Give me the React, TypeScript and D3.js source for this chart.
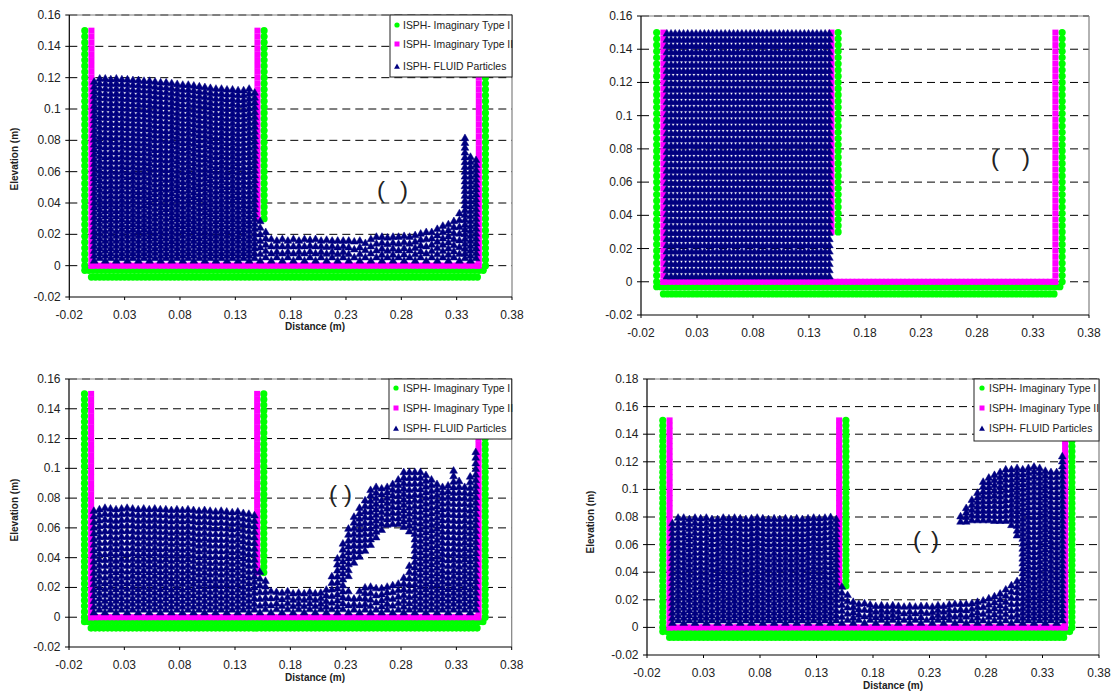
import React from "react";
import * as d3 from "d3";

// ---------- values (metres) ----------
const xTickValues = [-0.02, 0.03, 0.08, 0.13, 0.18, 0.23, 0.28, 0.33, 0.38];
const yTicksA = [-0.02, 0, 0.02, 0.04, 0.06, 0.08, 0.1, 0.12, 0.14, 0.16];
const yTicksB = [-0.02, 0, 0.02, 0.04, 0.06, 0.08, 0.1, 0.12, 0.14, 0.16, 0.18];
const seriesNames = ["ISPH- Imaginary Type I", "ISPH- Imaginary Type II", "ISPH- FLUID Particles"];

// boundary particle lattice
const wallLevels = d3.range(0, 41).map((i) => i * 0.00375);
const gateLevels = wallLevels.filter((y) => y >= 0.03);
const floorStations = d3.range(0, 94).map((i) => i * 0.00375);
const outerWallX = [-0.006, 0.156, 0.356];
const innerWallX = [0, 0.15, 0.35];
const outerFloorY = [-0.003, -0.0073];

// fluid columns: top of the free surface at each station
const fluidStations = d3.range(0, 70).map((i) => 0.0025 + i * 0.005);
const topA = [
  0.12, 0.122, 0.122, 0.1215, 0.122, 0.1215, 0.1215, 0.121, 0.121, 0.1205, 0.1205, 0.12, 0.1195, 0.1195, 0.119,
  0.1185, 0.118, 0.118, 0.1175, 0.117, 0.1165, 0.116, 0.1155, 0.1155, 0.115, 0.115, 0.1145, 0.1145, 0.1155, 0.113,
  0.031, 0.024, 0.0195, 0.0185, 0.0195, 0.0185, 0.0195, 0.0185, 0.0195, 0.019, 0.0195, 0.0185,
  0.019, 0.0185, 0.0185, 0.0185, 0.0185, 0.018, 0.0185, 0.017, 0.0195, 0.021, 0.021, 0.0205, 0.021, 0.021, 0.0215, 0.021,
  0.022, 0.023, 0.024, 0.024, 0.026, 0.028, 0.029, 0.031, 0.036, 0.084, 0.072, 0.07,
];
const topC = [
  0.074, 0.075, 0.076, 0.0755, 0.075, 0.0755, 0.076, 0.0755, 0.075, 0.0755, 0.075, 0.0755, 0.075, 0.075, 0.0745,
  0.075, 0.0745, 0.075, 0.0745, 0.074, 0.0745, 0.074, 0.0735, 0.074, 0.0735, 0.073, 0.0735, 0.0725, 0.072, 0.071,
  0.033, 0.027, 0.02, 0.0195, 0.019, 0.02, 0.0185, 0.019, 0.0185, 0.0195, 0.0185, 0.019,
  0.021, 0.03, 0.042, 0.052, 0.062, 0.07, 0.076, 0.081, 0.088, 0.09, 0.089, 0.09, 0.092, 0.095, 0.1, 0.1,
  0.1, 0.1, 0.098, 0.095, 0.092, 0.09, 0.091, 0.101, 0.094, 0.09, 0.097, 0.1135,
];
const topD = [
  0.078, 0.082, 0.082, 0.081, 0.082, 0.0815, 0.082, 0.081, 0.081, 0.082, 0.0815, 0.082, 0.0815, 0.081, 0.0815,
  0.082, 0.0815, 0.081, 0.0815, 0.081, 0.0815, 0.081, 0.0815, 0.081, 0.0815, 0.082, 0.0815, 0.082, 0.0825, 0.081,
  0.032, 0.026, 0.021, 0.0195, 0.02, 0.019, 0.018, 0.0185, 0.018, 0.0185, 0.018, 0.0175,
  0.018, 0.0175, 0.018, 0.018, 0.0175, 0.0185, 0.018, 0.019, 0.0195,
  0.083, 0.089, 0.095, 0.1, 0.108, 0.111, 0.113, 0.115, 0.117, 0.117, 0.118, 0.117, 0.118, 0.119, 0.118, 0.116,
  0.115, 0.115, 0.1265,
];
// cavities inside a column (air pocket under the plunging jet)
const cavityXC = [0.2325, 0.2375, 0.2425, 0.2475, 0.2525, 0.2575, 0.2625, 0.2675, 0.2725, 0.2775, 0.2825, 0.2875];
const cavityLowC = [0.02, 0.015, 0.02, 0.0225, 0.023, 0.022, 0.022, 0.023, 0.024, 0.025, 0.029, 0.037];
const cavityHighC = [0.026, 0.035, 0.039, 0.043, 0.047, 0.052, 0.057, 0.0605, 0.061, 0.061, 0.059, 0.056];
const cavityXD = [0.2575, 0.2625, 0.2675, 0.2725, 0.2775, 0.2825, 0.2875, 0.2925, 0.2975, 0.3025, 0.3075];
const cavityLowD = [0.0195, 0.0195, 0.02, 0.021, 0.022, 0.0235, 0.025, 0.027, 0.03, 0.033, 0.036];
const cavityHighD = [0.075, 0.075, 0.076, 0.076, 0.076, 0.076, 0.0755, 0.0755, 0.0755, 0.0725, 0.065];
// initial rectangular block
const blockColumns = d3.range(0, 40).map((i) => 0.0031 + i * 0.00372);
const blockRows = d3.range(0, 40).map((i) => 0.003 + i * 0.00375);

type P = [number, number];

function fillColumn(x: number, lo: number, hi: number, gap: number, out: P[]) {
  if (hi < lo) return;
  const n = Math.max(1, Math.round((hi - lo) / gap));
  for (let k = 0; k <= n; k++) out.push([x, lo + ((hi - lo) * k) / n]);
}

function fluidFromColumns(tops: number[], gap: number, cx: number[] = [], cl: number[] = [], ch: number[] = []) {
  const out: P[] = [];
  const apexInset = 0.0028;
  const baseInset = 0.0014;
  fluidStations.forEach((x, i) => {
    const top = tops[i] - apexInset;
    const g = top < 0.05 ? 0.0042 : gap;
    const base = 0.003 + (i % 2 ? g / 2 : 0);
    const c = cx.findIndex((v) => Math.abs(v - x) < 1e-6);
    if (c >= 0) {
      fillColumn(x, base, cl[c] - apexInset, 0.0042, out);
      fillColumn(x, ch[c] + baseInset, top, g, out);
    } else fillColumn(x, base, top, g, out);
  });
  return out;
}

function blockFluid() {
  const out: P[] = [];
  blockColumns.forEach((x) => blockRows.forEach((y) => out.push([x, y])));
  return out;
}

const outerParticles: P[] = [
  ...wallLevels.map((y): P => [outerWallX[0], y]),
  ...gateLevels.map((y): P => [outerWallX[1], y]),
  ...wallLevels.map((y): P => [outerWallX[2], y]),
  ...d3.range(0, 97).map((i): P => [-0.006 + i * 0.00375, outerFloorY[0]]),
  ...floorStations.map((x): P => [x, outerFloorY[1]]),
];
const innerParticles: P[] = [
  ...wallLevels.map((y): P => [innerWallX[0], y]),
  ...gateLevels.map((y): P => [innerWallX[1], y]),
  ...wallLevels.map((y): P => [innerWallX[2], y]),
  ...floorStations.map((x): P => [x, 0]),
];

const triangle = d3.symbol().type(d3.symbolTriangle).size(26)() as string;
const legendTriangle = d3.symbol().type(d3.symbolTriangle).size(15)() as string;

type Panel = {
  left: number; right: number; top: number; bottom: number;
  yMax: number; yTicks: number[];
  fluid: P[];
  legend?: { x0: number; y0: number; y1: number; rows: number[]; mx: number; tx: number };
  xTitle?: [number, number]; yTitle?: [number, number];
  parens: [number, number, number];
};

const panels: Panel[] = [
  {
    left: 69.3, right: 512, top: 15, bottom: 297, yMax: 0.16, yTicks: yTicksA,
    fluid: fluidFromColumns(topA, 0.0031),
    legend: { x0: 390, y0: 15, y1: 77, rows: [25, 44, 66], mx: 397, tx: 403 },
    xTitle: [315, 326], yTitle: [14.5, 159], parens: [381, 404, 189],
  },
  {
    left: 641, right: 1089, top: 16, bottom: 315, yMax: 0.16, yTicks: yTicksA,
    fluid: blockFluid(), parens: [995, 1026, 157],
  },
  {
    left: 69, right: 511.7, top: 379, bottom: 647, yMax: 0.16, yTicks: yTicksA,
    fluid: fluidFromColumns(topC, 0.0038, cavityXC, cavityLowC, cavityHighC),
    legend: { x0: 389, y0: 379, y1: 439, rows: [388, 408, 428], mx: 396, tx: 403 },
    xTitle: [315, 677], yTitle: [14.5, 510], parens: [333, 348, 493],
  },
  {
    left: 647, right: 1099, top: 379, bottom: 655, yMax: 0.18, yTicks: yTicksB,
    fluid: fluidFromColumns(topD, 0.0036, cavityXD, cavityLowD, cavityHighD),
    legend: { x0: 974, y0: 379, y1: 441, rows: [388, 408, 428], mx: 982, tx: 989 },
    xTitle: [893, 685], yTitle: [590, 522], parens: [917, 935, 539],
  },
];

const GREEN = "#00ff00";
const MAGENTA = "#ff00ff";
const NAVY = "#000080";
const FONT = "'Liberation Sans', Arial, sans-serif";
const INK = "#222";

function ChartPanel({ p }: { p: Panel }) {
  const x = d3.scaleLinear().domain([-0.02, 0.38]).range([p.left, p.right]);
  const y = d3.scaleLinear().domain([-0.02, p.yMax]).range([p.bottom, p.top]);
  return (
    <g fontFamily={FONT}>
      {p.yTicks.filter((t) => t > -0.02).map((t) => (
        <line key={t} x1={p.left} x2={p.right} y1={y(t)} y2={y(t)} stroke="#000" strokeWidth={1} strokeDasharray="8 5" />
      ))}
      <line x1={p.right} x2={p.right} y1={p.top} y2={p.bottom} stroke="#808080" strokeWidth={1.2} />
      <line x1={p.left} x2={p.right} y1={p.top} y2={p.top} stroke="#808080" strokeWidth={1} />
      {outerParticles.map((d, i) => (
        <circle key={i} cx={x(d[0])} cy={y(d[1])} r={3.6} fill={GREEN} />
      ))}
      {innerParticles.map((d, i) => (
        <rect key={i} x={x(d[0]) - 3} y={y(d[1]) - 3} width={6} height={6} fill={MAGENTA} />
      ))}
      {p.fluid.map((d, i) => (
        <path key={i} d={triangle} transform={`translate(${x(d[0])},${y(d[1])})`} fill={NAVY} stroke={NAVY} strokeWidth={0.5} />
      ))}
      <line x1={p.left} x2={p.left} y1={p.top} y2={p.bottom} stroke="#000" strokeWidth={1.2} />
      <line x1={p.left} x2={p.right} y1={p.bottom} y2={p.bottom} stroke="#000" strokeWidth={1.2} />
      {p.yTicks.map((t) => (
        <g key={t}>
          <line x1={p.left - 4} x2={p.left} y1={y(t)} y2={y(t)} stroke="#000" />
          <text x={p.left - 8.5} y={y(t)} textAnchor="end" dominantBaseline="central" fontSize={12} fill={INK}>
            {String(t)}
          </text>
        </g>
      ))}
      {xTickValues.map((t) => (
        <g key={t}>
          <line x1={x(t)} x2={x(t)} y1={p.bottom} y2={p.bottom + 3} stroke="#000" />
          <text x={x(t)} y={p.bottom + 18} textAnchor="middle" dominantBaseline="central" fontSize={12} fill={INK}>
            {String(t)}
          </text>
        </g>
      ))}
      {p.xTitle && (
        <text x={p.xTitle[0]} y={p.xTitle[1]} textAnchor="middle" dominantBaseline="central" fontSize={10} fontWeight="bold" fill={INK}>
          Distance (m)
        </text>
      )}
      {p.yTitle && (
        <text transform={`translate(${p.yTitle[0]},${p.yTitle[1]}) rotate(-90)`} textAnchor="middle" dominantBaseline="central" fontSize={10} fontWeight="bold" fill={INK}>
          Elevation (m)
        </text>
      )}
      {p.legend && (
        <g>
          <rect x={p.legend.x0} y={p.legend.y0} width={p.right - p.legend.x0} height={p.legend.y1 - p.legend.y0} fill="#fff" stroke="#222" strokeWidth={1} />
          <circle cx={p.legend.mx} cy={p.legend.rows[0]} r={2.6} fill={GREEN} />
          <rect x={p.legend.mx - 2.5} y={p.legend.rows[1] - 2.5} width={5} height={5} fill={MAGENTA} />
          <path d={legendTriangle} transform={`translate(${p.legend.mx},${p.legend.rows[2] + 1})`} fill={NAVY} />
          {seriesNames.map((s, i) => (
            <text key={s} x={p.legend!.tx} y={p.legend!.rows[i]} dominantBaseline="central" fontSize={10.4} fill={INK}>
              {s}
            </text>
          ))}
        </g>
      )}
      <text x={p.parens[0]} y={p.parens[2]} textAnchor="middle" dominantBaseline="central" fontSize={24} fontWeight={300} fill={INK}>(</text>
      <text x={p.parens[1]} y={p.parens[2]} textAnchor="middle" dominantBaseline="central" fontSize={24} fontWeight={300} fill={INK}>)</text>
    </g>
  );
}

export default function App() {
  return (
    <svg width={1115} height={694} style={{ position: "absolute", left: 0, top: 0, background: "#fff" }}>
      {panels.map((p, i) => (
        <ChartPanel key={i} p={p} />
      ))}
    </svg>
  );
}
